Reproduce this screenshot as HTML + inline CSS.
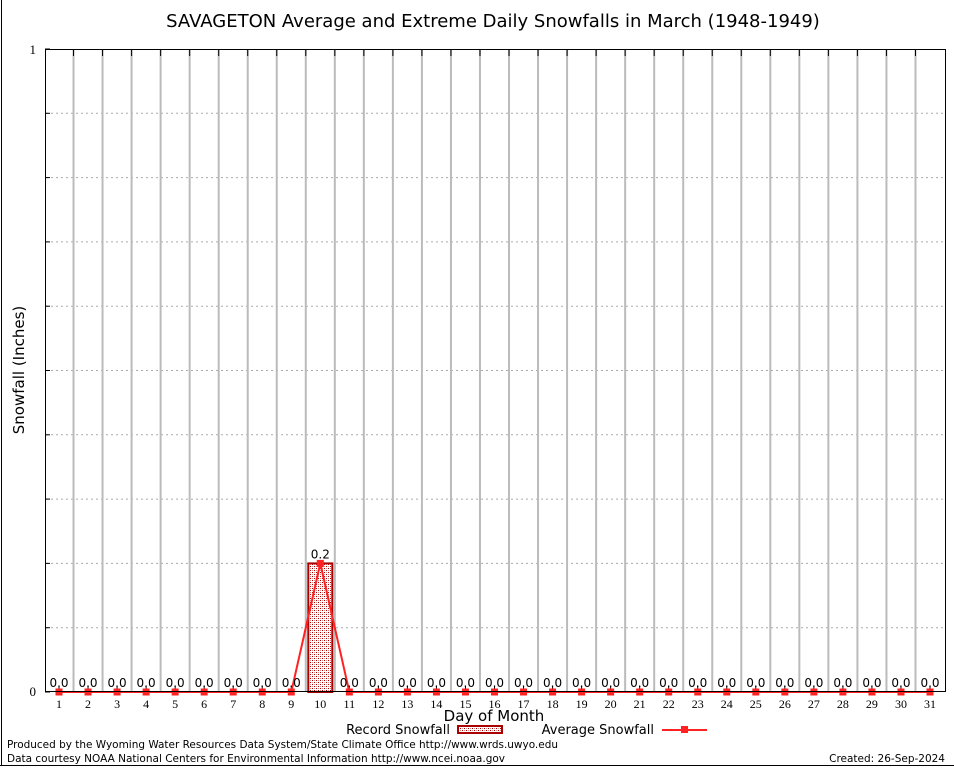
<!DOCTYPE html>
<html><head><meta charset="utf-8"><style>
body{margin:0;background:#fff;}
svg{display:block;font-family:"DejaVu Sans","Liberation Sans",sans-serif;}
</style></head><body>
<svg id="chart" width="954" height="768" viewBox="0 0 954 768" xmlns="http://www.w3.org/2000/svg">
<defs><pattern id="chk" width="4" height="4" patternUnits="userSpaceOnUse"><rect width="4" height="4" fill="#fff"/><rect width="1" height="1" fill="#a00"/><rect x="2" y="2" width="1" height="1" fill="#a00"/><rect x="2" y="0" width="1" height="1" fill="#d88"/><rect x="0" y="2" width="1" height="1" fill="#d88"/></pattern></defs>
<rect width="954" height="768" fill="#fff"/>
<line x1="1.5" y1="0" x2="1.5" y2="766" stroke="#000"/>
<line x1="0" y1="765.5" x2="954" y2="765.5" stroke="#000"/>
<text x="493" y="27" font-size="18" text-anchor="middle">SAVAGETON Average and Extreme Daily Snowfalls in March (1948-1949)</text>
<text transform="translate(24,370) rotate(-90)" font-size="15" text-anchor="middle">Snowfall (Inches)</text>
<text x="494" y="721" font-size="15" text-anchor="middle">Day of Month</text>
<g id="grid"></g><g id="bars"></g><g id="line"></g><g id="labels"></g>
<rect x="45.5" y="49.5" width="900" height="642" fill="none" stroke="#000"/>
<text x="36" y="696" font-size="13" font-family="Liberation Serif,serif" text-anchor="end">0</text>
<text x="36" y="54" font-size="13" font-family="Liberation Serif,serif" text-anchor="end">1</text>
<g>
<text x="450" y="734" font-size="13" text-anchor="end">Record Snowfall</text>
<rect x="458" y="726" width="44" height="7" fill="url(#chk)" stroke="#a00" stroke-width="2"/>
<text x="654" y="734" font-size="13" text-anchor="end">Average Snowfall</text>
<line x1="662" y1="730" x2="707" y2="730" stroke="#f22" stroke-width="2"/>
<rect x="681" y="726" width="7" height="7" fill="#f22"/>
</g>
<text x="7" y="748" font-size="10.5" textLength="551" lengthAdjust="spacingAndGlyphs">Produced by the Wyoming Water Resources Data System/State Climate Office http://www.wrds.uwyo.edu</text>
<text x="7" y="762" font-size="10.5" textLength="498" lengthAdjust="spacingAndGlyphs">Data courtesy NOAA National Centers for Environmental Information http://www.ncei.noaa.gov</text>
<text x="945" y="762" font-size="10.5" text-anchor="end">Created:  26-Sep-2024</text>
</svg>
<script>
const days=[1,2,3,4,5,6,7,8,9,10,11,12,13,14,15,16,17,18,19,20,21,22,23,24,25,26,27,28,29,30,31];
const recordValues=[0,0,0,0,0,0,0,0,0,0.2,0,0,0,0,0,0,0,0,0,0,0,0,0,0,0,0,0,0,0,0,0];
const averageValues=[0,0,0,0,0,0,0,0,0,0.2,0,0,0,0,0,0,0,0,0,0,0,0,0,0,0,0,0,0,0,0,0];
const yTicks=[0,0.1,0.2,0.3,0.4,0.5,0.6,0.7,0.8,0.9,1];
const NS="http://www.w3.org/2000/svg";
const xS=d=>59+(d-1)*(930-59)/30;
const yS=v=>692-v*643;
function mk(tag,attrs,parent,txt){const e=document.createElementNS(NS,tag);for(const k in attrs)e.setAttribute(k,attrs[k]);if(txt!==undefined)e.textContent=txt;parent.appendChild(e);return e;}
const grid=document.getElementById('grid'),bars=document.getElementById('bars'),line=document.getElementById('line'),labels=document.getElementById('labels');
yTicks.forEach(t=>{if(t>0&&t<1){const g=mk('line',{x1:46,x2:945,y1:yS(t),y2:yS(t),stroke:'#aaa','stroke-dasharray':'2,3'},grid);

}
const tk=mk('line',{x1:45,x2:50,y1:yS(t),y2:yS(t),stroke:'#000'},grid);

});
const step=(930-59)/30;
days.forEach((d,i)=>{
 if(i<days.length-1){const v=mk('line',{x1:xS(d)+step/2,x2:xS(d)+step/2,y1:50,y2:692,stroke:'#bbb','stroke-width':2},grid);
 
 
 const tt=mk('line',{x1:xS(d)+step/2,x2:xS(d)+step/2,y1:50,y2:56,stroke:'#000'},grid);
 
 }
 const tb=mk('line',{x1:xS(d),x2:xS(d),y1:686,y2:692,stroke:'#000'},grid);
 
 
 const tl=mk('text',{x:xS(d),y:708,'font-size':12,'font-family':'Liberation Serif,serif','text-anchor':'middle'},labels,String(d));
 
 
 const r=recordValues[i];
 if(r>0){const b=mk('rect',{x:xS(d)-12,y:yS(r),width:24,height:yS(0)-yS(r),fill:'url(#chk)',stroke:'#a00','stroke-width':2},bars);
 
 }
 const vl=mk('text',{x:xS(d),y:yS(r)-5,'font-size':12,'text-anchor':'middle'},labels,r.toFixed(1));
 
 
});
const pl=mk('polyline',{points:days.map((d,i)=>xS(d)+','+yS(averageValues[i])).join(' '),fill:'none',stroke:'#f22','stroke-width':2},line);


days.forEach((d,i)=>{const c=mk('rect',{x:xS(d)-3.5,y:yS(averageValues[i])-3.5,width:7,height:7,fill:'#f22'},line);

});
</script>
</body></html>
